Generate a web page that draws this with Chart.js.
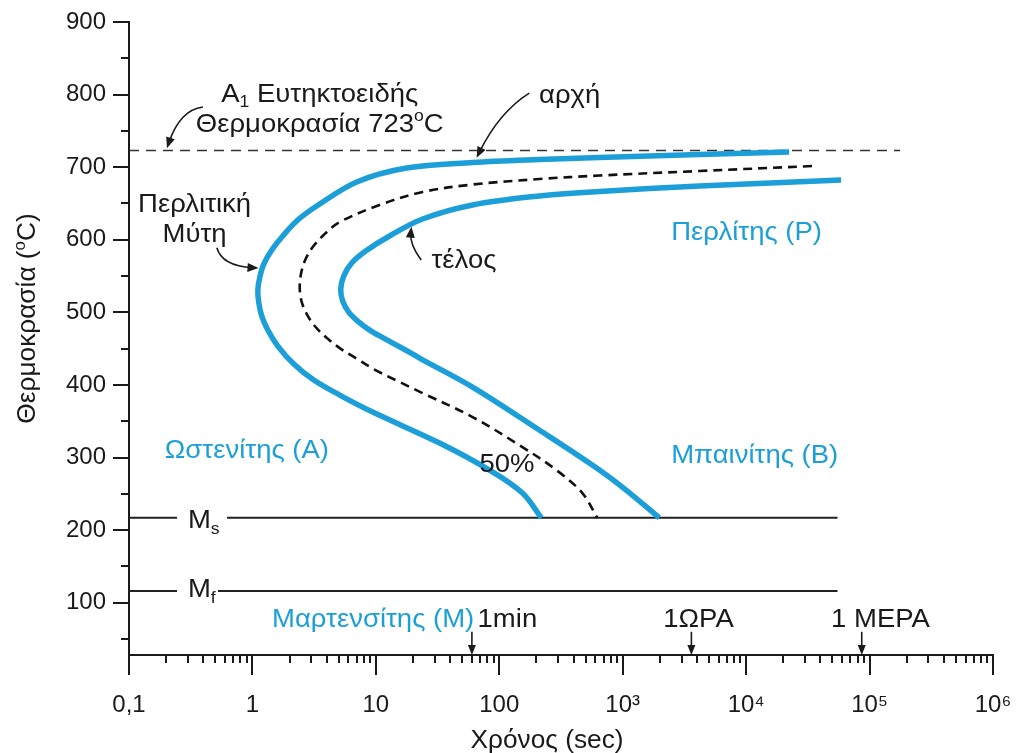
<!DOCTYPE html>
<html>
<head>
<meta charset="utf-8">
<script src="https://cdn.jsdelivr.net/npm/chart.js@4.4.1/dist/chart.umd.min.js"></script>
<style>
  html, body { margin: 0; padding: 0; background: #ffffff; }
  #wrap { width: 1019px; height: 753px; position: relative; }
</style>
</head>
<body>
<div id="wrap"><canvas id="ttt"></canvas></div>
<script>
// TTT (isothermal transformation) diagram of a eutectoid steel.
// Times in seconds (log axis), temperatures in °C.

// Start of transformation (left C-curve)
const startTime = [22300, 4170, 647, 211, 60.7, 17.7, 7.0, 3.32, 2.33, 1.76, 1.435, 1.236, 1.148, 1.106, 1.127, 1.191, 1.332, 1.605, 2.163, 3.139, 5.094, 9.42, 32.8, 83.3, 154, 219];
const startTemp = [721, 717.4, 713.3, 710.6, 706.4, 698.8, 679.6, 646.5, 627.2, 605.2, 585.9, 566.6, 548.7, 530.8, 512.8, 494.9, 475.6, 453.6, 428.8, 406.7, 386.1, 362.7, 320, 282.7, 251.1, 217];

// 50 % transformed (dashed C-curve)
const halfTime = [34200, 4170, 647, 211, 60.7, 23.9, 10.7, 5.09, 3.853, 3.082, 2.654, 2.464, 2.418, 2.51, 2.755, 3.198, 3.926, 5.094, 6.864, 9.6, 15.01, 23.9, 60.7, 154, 290, 471, 622];
const halfTemp = [701.6, 694.7, 688.5, 683.7, 676.1, 665.8, 647.9, 624.4, 607.9, 590, 570.7, 551.4, 532.1, 514.2, 497.7, 481.2, 466, 450.8, 437.1, 421.9, 405.4, 388.8, 355.8, 314.4, 282.7, 251.1, 217];

// End of transformation (right C-curve)
const endTime = [58700, 4170, 647, 211, 60.7, 23.9, 12.9, 8.271, 6.373, 5.491, 5.192, 5.389, 6.026, 7.125, 8.91, 11.78, 17.1, 23.34, 60.7, 211, 537, 993, 1977];
const endTemp = [682.3, 674, 666.5, 660.3, 647.9, 628.6, 605.2, 584.5, 568, 550, 532.1, 515.6, 500.4, 488, 475.6, 463.9, 448.8, 435.7, 397.1, 337.9, 292.4, 259.3, 217];

// Characteristic temperatures
const A1_TEMP = 723;
const MS_TEMP = 217;
const MF_TEMP = 116;

// Extent of the horizontal reference lines (seconds); pairs of start/end
const a1Span = [0.1, 177000];
const msSpan = [0.1, 0.245, 0.622, 55000];
const mfSpan = [0.1, 0.245, 0.526, 55000];

// Axis ticks
const xDecades = [0.1, 1, 10, 100, 1e3, 1e4, 1e5, 1e6];
const xTickLabels = ['0,1', '1', '10', '100', '10³', '10⁴', '10⁵', '10⁶'];
const yTickValues = [100, 200, 300, 400, 500, 600, 700, 800, 900];
const yTickLabels = ['100', '200', '300', '400', '500', '600', '700', '800', '900'];

// Time marks on the time axis
const markTimes = [60, 3600, 86400];
const markLabels = ['1min', '1ΩΡΑ', '1 ΜΕΡΑ'];

const FONT = "'Liberation Sans', Arial, Helvetica, sans-serif";
const BLUE = '#1c9fd8';
const INK = '#1a1a1a';

function pts(xs, ys) { return xs.map((x, i) => ({ x: x, y: ys[i] })); }
function hline(span, y) {
  const out = [];
  for (let i = 0; i < span.length; i += 2) {
    if (i > 0) out.push({ x: (span[i - 1] + span[i]) / 2, y: null });
    out.push({ x: span[i], y: y }, { x: span[i + 1], y: y });
  }
  return out;
}

// tick positions: 1..9 per decade on x, every 50 °C on y
const xTickValues = [];
for (let d = 0; d < xDecades.length - 1; d++) {
  for (let k = 1; k <= 9; k++) xTickValues.push(+(xDecades[d] * k).toPrecision(6));
}
xTickValues.push(xDecades[xDecades.length - 1]);
const yAllTicks = [];
for (let i = 0; i < yTickValues.length; i++) {
  yAllTicks.push(yTickValues[i] - 50, yTickValues[i]);
}

// Text placed in data coordinates (x: seconds, y: °C at the text baseline)
const notes = [
  { parts: [['A', ''], ['1', 'sub'], [' Ευτηκτοειδής', '']], x: 3.51, y: 790, align: 'center', color: INK },
  { parts: [['Θερμοκρασία 723', ''], ['o', 'sup'], ['C', '']], x: 3.51, y: 748.5, align: 'center', color: INK },
  { parts: [['αρχή', '']], x: 210, y: 788.5, align: 'left', color: INK },
  { parts: [['Περλιτική', '']], x: 0.34, y: 638, align: 'center', color: INK },
  { parts: [['Μύτη', '']], x: 0.34, y: 597, align: 'center', color: INK },
  { parts: [['τέλος', '']], x: 28.2, y: 561, align: 'left', color: INK },
  { parts: [['Περλίτης (Ρ)', '']], x: 2470, y: 599.5, align: 'left', color: BLUE },
  { parts: [['Ωστενίτης (Α)', '']], x: 0.195, y: 299, align: 'left', color: BLUE },
  { parts: [['Μπαινίτης (Β)', '']], x: 2470, y: 292.5, align: 'left', color: BLUE },
  { parts: [['50%', '']], x: 69, y: 280, align: 'left', color: INK },
  { parts: [['Μαρτενσίτης (Μ)', '']], x: 1.44, y: 66.5, align: 'left', color: BLUE },
  { parts: [[markLabels[0], '']], x: 66.7, y: 66.5, align: 'left', color: INK },
  { parts: [[markLabels[1], '']], x: 2130, y: 66.5, align: 'left', color: INK },
  { parts: [[markLabels[2], '']], x: 48750, y: 66.5, align: 'left', color: INK },
  { parts: [['M', ''], ['s', 'sub']], x: 0.30, y: 202.8, align: 'left', color: INK },
  { parts: [['M', ''], ['f', 'sub']], x: 0.30, y: 107.8, align: 'left', color: INK }
];

// Curved pointer arrows: tail, control point, tip (data coordinates)
const pointers = [
  { from: [0.397, 783], ctrl: [0.259, 779], to: [0.203, 726] },
  { from: [175, 802], ctrl: [100, 776], to: [65.5, 713] },
  { from: [0.515, 589], ctrl: [0.565, 564], to: [1.12, 561] },
  { from: [23.3, 572], ctrl: [18.8, 593], to: [19.4, 618] }
];

// rich text with sub/superscripts; sx widens the glyphs horizontally
function drawRich(ctx, parts, x, y, align, size, color, sx) {
  const small = Math.round(size * 0.62);
  const widths = parts.map(([t, m]) => {
    ctx.font = (m ? small : size) + 'px ' + FONT;
    return ctx.measureText(t).width;
  });
  const total = widths.reduce((a, b) => a + b, 0);
  ctx.save();
  ctx.translate(x, y);
  ctx.scale(sx || 1, 1);
  let cx = align === 'center' ? -total / 2 : 0;
  ctx.fillStyle = color;
  ctx.textAlign = 'left';
  ctx.textBaseline = 'alphabetic';
  parts.forEach(([t, m], i) => {
    ctx.font = (m ? small : size) + 'px ' + FONT;
    const dy = m === 'sub' ? size * 0.22 : (m === 'sup' ? -size * 0.42 : 0);
    ctx.fillText(t, cx, dy);
    cx += widths[i];
  });
  ctx.restore();
}

function arrowHead(ctx, tx, ty, dx, dy, len, half) {
  const l = Math.hypot(dx, dy) || 1;
  const ux = dx / l, uy = dy / l;
  ctx.beginPath();
  ctx.moveTo(tx, ty);
  ctx.lineTo(tx - ux * len - uy * half, ty - uy * len + ux * half);
  ctx.lineTo(tx - ux * len + uy * half, ty - uy * len - ux * half);
  ctx.closePath();
  ctx.fill();
}

const diagramDecor = {
  id: 'diagramDecor',
  afterDraw(chart) {
    const ctx = chart.ctx;
    const xs = chart.scales.x, ys = chart.scales.y;
    const area = chart.chartArea;
    const X = v => xs.getPixelForValue(v);
    const Y = v => ys.getPixelForValue(v);
    ctx.save();

    // tick marks (decades long, intermediate short)
    ctx.strokeStyle = INK;
    ctx.lineWidth = 2;
    ctx.beginPath();
    xs.ticks.forEach(t => {
      const p = Math.round(X(t.value));
      const major = xDecades.some(d => Math.abs(d - t.value) / d < 1e-6);
      ctx.moveTo(p, area.bottom);
      ctx.lineTo(p, area.bottom + (major ? 20 : 8));
    });
    ys.ticks.forEach(t => {
      const p = Math.round(Y(t.value));
      const major = yTickValues.includes(t.value);
      ctx.moveTo(area.left, p);
      ctx.lineTo(area.left - (major ? 16 : 8), p);
    });
    ctx.stroke();

    // annotations
    notes.forEach(n => drawRich(ctx, n.parts, X(n.x), Y(n.y), n.align, 25, n.color, 1.1));

    ctx.strokeStyle = INK;
    ctx.fillStyle = INK;
    ctx.lineWidth = 1.6;
    pointers.forEach(a => {
      const fx = X(a.from[0]), fy = Y(a.from[1]);
      const cx = X(a.ctrl[0]), cy = Y(a.ctrl[1]);
      const tx = X(a.to[0]), ty = Y(a.to[1]);
      const ux = tx - cx, uy = ty - cy, l = Math.hypot(ux, uy);
      ctx.beginPath();
      ctx.moveTo(fx, fy);
      ctx.quadraticCurveTo(cx, cy, tx - ux / l * 6, ty - uy / l * 6);
      ctx.stroke();
      arrowHead(ctx, tx, ty, ux, uy, 11, 4.5);
    });
    markTimes.forEach(t => {
      const px = X(t);
      const y0 = Y(60), y1 = area.bottom;
      ctx.beginPath();
      ctx.moveTo(px, y0);
      ctx.lineTo(px, y1 - 6);
      ctx.stroke();
      arrowHead(ctx, px, y1, 0, 1, 10, 4);
    });

    // axis titles
    ctx.save();
    ctx.translate(35, (area.top + area.bottom) / 2 - 20);
    ctx.rotate(-Math.PI / 2);
    drawRich(ctx, [['Θερμοκρασία (', ''], ['o', 'sup'], ['C)', '']], 0, 0, 'center', 25, INK, 1.05);
    ctx.restore();
    drawRich(ctx, [['Χρόνος (sec)', '']], (area.left + area.right) / 2 - 14, 748, 'center', 25, INK, 1.05);

    ctx.restore();
  }
};

new Chart(document.getElementById('ttt'), {
  type: 'scatter',
  data: {
    datasets: [
      { data: pts(startTime, startTemp), borderColor: BLUE, borderWidth: 5.5, tension: 0.35 },
      { data: pts(endTime, endTemp), borderColor: BLUE, borderWidth: 5.5, tension: 0.35 },
      { data: pts(halfTime, halfTemp), borderColor: '#111111', borderWidth: 2.6, borderDash: [9, 6], tension: 0.35 },
      { data: hline(a1Span, A1_TEMP), borderColor: '#333333', borderWidth: 1.6, borderDash: [10, 7] },
      { data: hline(msSpan, MS_TEMP), borderColor: '#222222', borderWidth: 2 },
      { data: hline(mfSpan, MF_TEMP), borderColor: '#222222', borderWidth: 2 }
    ].map(d => Object.assign({ showLine: true, pointRadius: 0, spanGaps: false, fill: false, borderCapStyle: 'butt' }, d))
  },
  options: {
    responsive: true,
    maintainAspectRatio: false,
    animation: false,
    events: [],
    layout: { padding: { top: 22, right: 26, left: 0, bottom: 0 } },
    plugins: { legend: { display: false }, tooltip: { enabled: false } },
    scales: {
      x: {
        type: 'logarithmic',
        min: 0.1,
        max: 1e6,
        afterBuildTicks: s => { s.ticks = xTickValues.map(v => ({ value: v })); },
        afterFit: s => { s.height = 98; s.paddingLeft = 0; s.paddingRight = 0; },
        grid: { display: true, drawOnChartArea: false, color: 'rgba(0,0,0,0)', tickLength: 20 },
        border: { display: true, color: INK, width: 2 },
        ticks: {
          autoSkip: false,
          maxRotation: 0,
          padding: 16,
          color: INK,
          font: { family: FONT, size: 24 },
          callback: v => {
            const i = xDecades.findIndex(d => Math.abs(d - v) / d < 1e-6);
            return i >= 0 ? xTickLabels[i] : '';
          }
        }
      },
      y: {
        type: 'linear',
        min: 28,
        max: 900,
        afterBuildTicks: s => { s.ticks = yAllTicks.map(v => ({ value: v })); },
        afterFit: s => { s.width = 129; },
        grid: { display: true, drawOnChartArea: false, color: 'rgba(0,0,0,0)', tickLength: 16 },
        border: { display: true, color: INK, width: 2 },
        ticks: {
          autoSkip: false,
          padding: 7,
          color: INK,
          font: { family: FONT, size: 24 },
          callback: v => {
            const i = yTickValues.indexOf(v);
            return i >= 0 ? yTickLabels[i] : '';
          }
        }
      }
    }
  },
  plugins: [diagramDecor]
});
</script>
</body>
</html>
